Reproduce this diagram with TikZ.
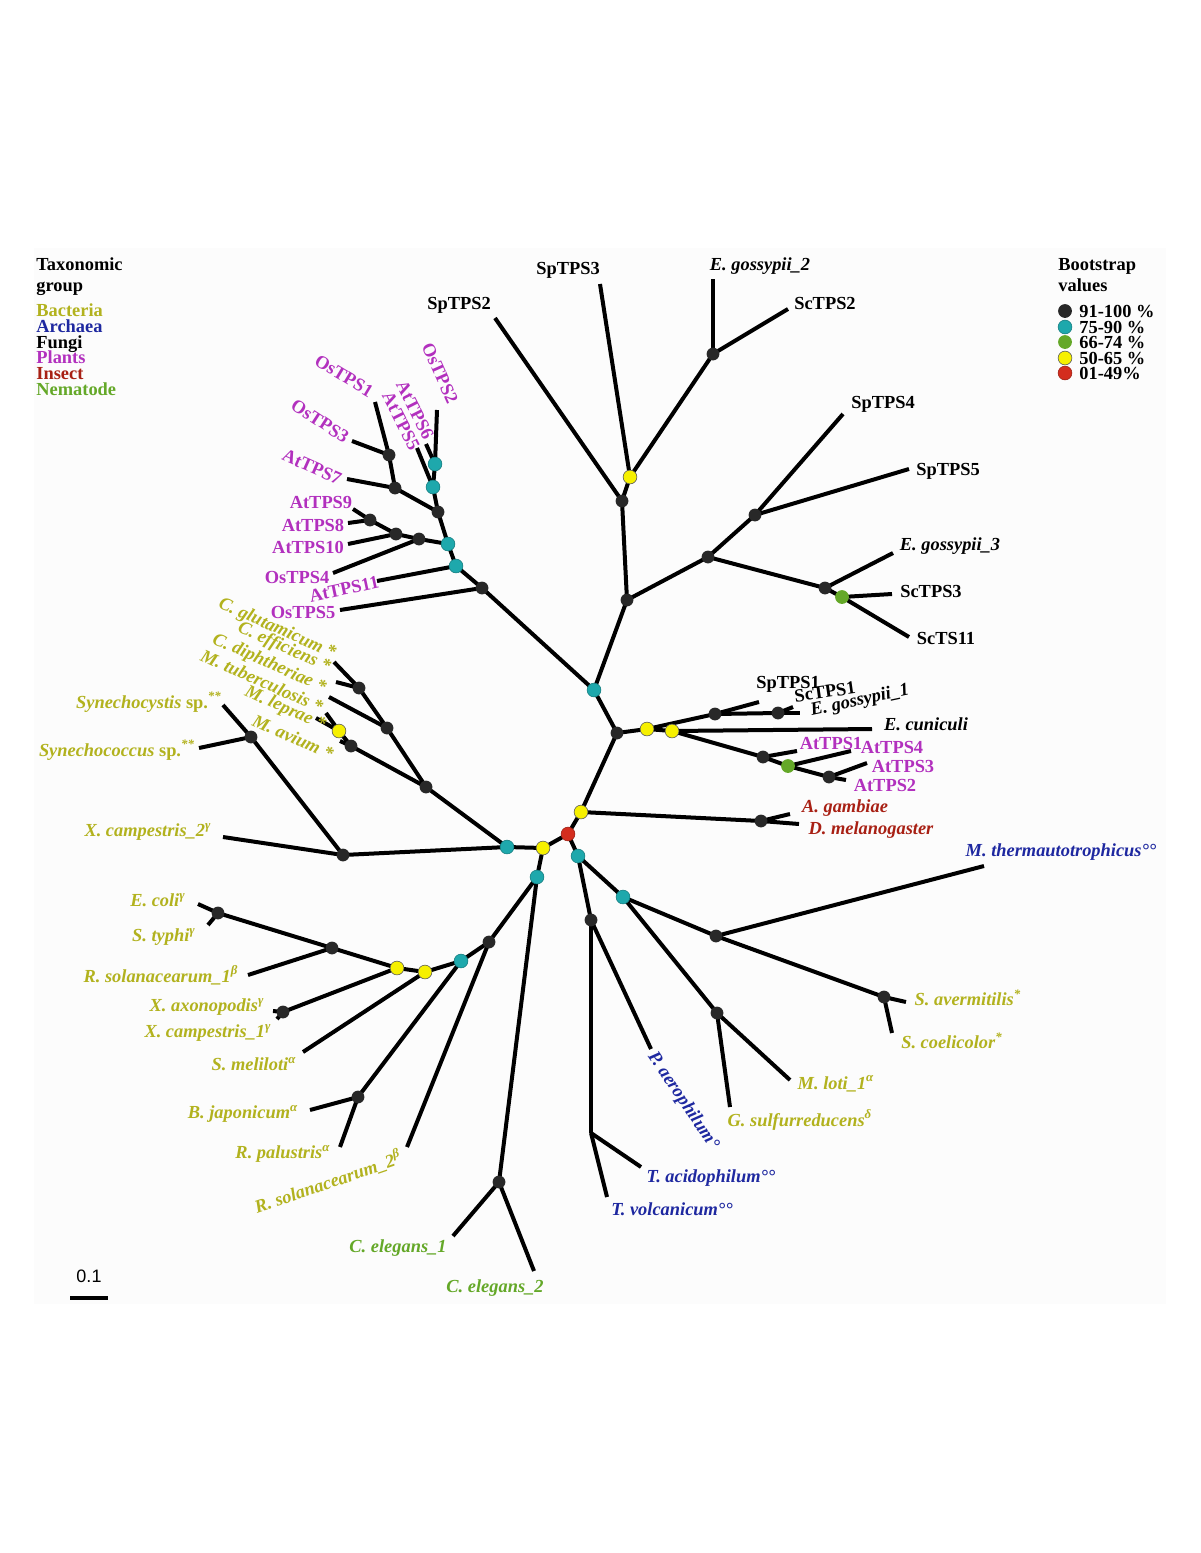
\documentclass[tikz,border=0pt]{standalone}
\usepackage{fontspec}
\setmainfont{Liberation Serif}
\newfontfamily\sansf{Liberation Sans}
\definecolor{bacC}{RGB}{178,178,30}
\definecolor{arcC}{RGB}{30,40,160}
\definecolor{plaC}{RGB}{178,48,190}
\definecolor{insC}{RGB}{168,32,20}
\definecolor{nemC}{RGB}{100,168,40}
\definecolor{dkC}{RGB}{40,40,40}
\definecolor{cyC}{RGB}{30,168,172}
\definecolor{grC}{RGB}{100,168,40}
\definecolor{yeC}{RGB}{246,240,0}
\definecolor{reC}{RGB}{212,45,30}
\newcommand\lbf{\fontsize{9.2}{11}\selectfont\bfseries}
\newcommand\lbi{\fontsize{9.2}{11}\selectfont\bfseries\itshape}
\begin{document}
\begin{tikzpicture}[x=0.5pt,y=-0.5pt,
  br/.style={line width=2pt},
  dot/.style={circle, inner sep=0pt, minimum size=6.9pt},
  dk/.style={dot, fill=dkC, minimum size=6.4pt},
  dc/.style={dot, fill=cyC, draw=cyC!75!black, line width=0.3pt},
  dg/.style={dot, fill=grC},
  dy/.style={dot, fill=yeC, draw=black!65, line width=0.3pt},
  dr/.style={dot, fill=reC, draw=reC!75!black, line width=0.3pt},
  lab/.style={inner sep=0pt, font=\lbf},
  sp/.style={inner sep=0pt, font=\lbi},
  leg/.style={inner sep=0pt, font=\lbf, anchor=base west},
]
\useasboundingbox (0,0) rectangle (1200,1553);
\fill[black!1.3] (34,248) rectangle (1166,1304);

% ---------- coordinates: internal nodes ----------
\coordinate (r) at (568,834);
\coordinate (y1) at (581,812);
\coordinate (y2) at (543,848);
\coordinate (c1) at (507,847);
\coordinate (c2) at (537,877);
\coordinate (c3) at (578,856);
\coordinate (f0) at (617,733);
\coordinate (c4) at (594,690);
\coordinate (p0) at (482,588);
\coordinate (f1) at (627,600);
\coordinate (f2) at (622,501);
\coordinate (fy) at (630,477);
\coordinate (f3) at (713,354);
\coordinate (f4) at (708,557);
\coordinate (f5) at (755,515);
\coordinate (f6) at (825,588);
\coordinate (fg) at (842,597);
\coordinate (m1) at (647,729);
\coordinate (m2) at (672,731);
\coordinate (m3) at (715,714);
\coordinate (m4) at (778,713);
\coordinate (m5) at (763,757);
\coordinate (m6) at (788,766);
\coordinate (m7) at (829,777);
\coordinate (ins) at (761,821);
\coordinate (pc1) at (456,566);
\coordinate (pc2) at (448,544);
\coordinate (pb1) at (419,539);
\coordinate (pb2) at (396,534);
\coordinate (pb3) at (370,520);
\coordinate (pb4) at (438,512);
\coordinate (pb5) at (395,488);
\coordinate (pb6) at (389,455);
\coordinate (pc3) at (433,487);
\coordinate (pc4) at (435,464);
\coordinate (bu1) at (426,787);
\coordinate (bu2) at (387,728);
\coordinate (bu3) at (359,688);
\coordinate (bu5) at (351,746);
\coordinate (by) at (339,731);
\coordinate (bx) at (343,855);
\coordinate (bs) at (251,737);
\coordinate (bl1) at (489,942);
\coordinate (bc) at (461,961);
\coordinate (bly2) at (425,972);
\coordinate (bly1) at (397,968);
\coordinate (be) at (332,948);
\coordinate (bec) at (218,913);
\coordinate (bxa) at (283,1012);
\coordinate (bj) at (358,1097);
\coordinate (ce) at (499,1182);
\coordinate (a1) at (591,920);
\coordinate (a2) at (591,1133);
\coordinate (c5) at (623,897);
\coordinate (a3) at (716,936);
\coordinate (a4) at (717,1013);
\coordinate (sa) at (884,997);

% ---------- coordinates: leaf tips ----------
\coordinate (tSpTPS2) at (495,318);
\coordinate (tSpTPS3) at (600,284);
\coordinate (tEgos2) at (713,279);
\coordinate (tScTPS2) at (788,309);
\coordinate (tSpTPS4) at (843,414);
\coordinate (tSpTPS5) at (909,469);
\coordinate (tEgos3) at (893,553);
\coordinate (tScTPS3) at (892,594);
\coordinate (tScTS11) at (909,637);
\coordinate (tSpTPS1) at (759,702);
\coordinate (tScTPS1) at (793,707);
\coordinate (tEgos1) at (800,713);
\coordinate (tEcun) at (872,729);
\coordinate (tAtTPS1) at (797,751);
\coordinate (tAtTPS4) at (851,751);
\coordinate (tAtTPS3) at (867,763);
\coordinate (tAtTPS2) at (846,780);
\coordinate (tAgam) at (790,814);
\coordinate (tDmel) at (799,824);
\coordinate (tOsTPS5) at (340,610);
\coordinate (tAtTPS11) at (377,581);
\coordinate (tOsTPS4) at (333,573);
\coordinate (tAtTPS10) at (348,544);
\coordinate (tAtTPS9) at (353,509);
\coordinate (tAtTPS8) at (348,523);
\coordinate (tAtTPS7) at (347,479);
\coordinate (tOsTPS1) at (375,402);
\coordinate (tOsTPS3) at (352,441);
\coordinate (tOsTPS2) at (437,410);
\coordinate (tAtTPS6) at (426,444);
\coordinate (tAtTPS5) at (417,448);
\coordinate (tCglu) at (334,662);
\coordinate (tCeff) at (336,682);
\coordinate (tCdip) at (329,697);
\coordinate (tMtub) at (326,713);
\coordinate (tMlep) at (316,718);
\coordinate (tMav) at (340,741);
\coordinate (tXcam2) at (223,837);
\coordinate (tSyncy) at (223,705);
\coordinate (tSynco) at (199,748);
\coordinate (tEcoli) at (198,904);
\coordinate (tStyphi) at (208,925);
\coordinate (tRsol1) at (248,975);
\coordinate (tXaxo) at (273,1011);
\coordinate (tXcam1) at (277,1019);
\coordinate (tSmel) at (303,1052);
\coordinate (tBjap) at (310,1110);
\coordinate (tRpal) at (340,1147);
\coordinate (tRsol2) at (407,1147);
\coordinate (tCel1) at (453,1236);
\coordinate (tCel2) at (534,1271);
\coordinate (tPaer) at (651,1049);
\coordinate (tTacid) at (641,1167);
\coordinate (tTvolc) at (607,1197);
\coordinate (tMther) at (984,866);
\coordinate (tSaver) at (906,1002);
\coordinate (tScoel) at (892,1033);
\coordinate (tMloti) at (790,1080);
\coordinate (tGsulf) at (730,1107);

% ---------- branches ----------
\foreach \a/\b in {r/y1, r/y2, r/c3, y2/c1, y2/c2, y1/f0, y1/ins, f0/c4, c4/p0, c4/f1,
  f1/f2, f2/tSpTPS2, f2/fy, fy/tSpTPS3, fy/f3, f3/tEgos2, f3/tScTPS2, f1/f4, f4/f5,
  f5/tSpTPS4, f5/tSpTPS5, f4/f6, f6/tEgos3, f6/fg, fg/tScTPS3, fg/tScTS11,
  f0/m1, m1/m3, m3/tSpTPS1, m3/m4, m4/tScTPS1, m4/tEgos1, m1/m2, m2/tEcun, m2/m5,
  m5/tAtTPS1, m5/m6, m6/tAtTPS4, m6/m7, m7/tAtTPS3, m7/tAtTPS2, ins/tAgam, ins/tDmel,
  p0/tOsTPS5, p0/pc1, pc1/tAtTPS11, pc1/pc2, pc2/pb1, pb1/tOsTPS4, pb1/pb2, pb2/tAtTPS10,
  pb2/pb3, pb3/tAtTPS9, pb3/tAtTPS8, pc2/pb4, pb4/pb5, pb5/tAtTPS7, pb5/pb6, pb6/tOsTPS1,
  pb6/tOsTPS3, pb4/pc3, pc3/tAtTPS5, pc3/pc4, pc4/tOsTPS2, pc4/tAtTPS6,
  c1/bu1, c1/bx, bu1/bu2, bu1/bu5, bu2/bu3, bu2/tCdip, bu3/tCglu, bu3/tCeff, bu5/by,
  bu5/tMav, by/tMtub, by/tMlep, bx/tXcam2, bx/bs, bs/tSyncy, bs/tSynco,
  c2/bl1, c2/ce, bl1/bc, bl1/tRsol2, bc/bly2, bc/bj, bj/tBjap, bj/tRpal, bly2/bly1,
  bly2/tSmel, bly1/be, bly1/bxa, bxa/tXaxo, bxa/tXcam1, be/bec, be/tRsol1, bec/tEcoli,
  bec/tStyphi, ce/tCel1, ce/tCel2,
  c3/a1, c3/c5, a1/tPaer, a1/a2, a2/tTacid, a2/tTvolc, c5/a3, c5/a4, a3/tMther, a3/sa,
  sa/tSaver, sa/tScoel, a4/tMloti, a4/tGsulf}
  \draw[br] (\a) -- (\b);

% ---------- bootstrap dots ----------
\foreach \n in {f0,p0,f1,f2,f3,f4,f5,f6,m3,m4,m5,m7,ins,pb1,pb2,pb3,pb4,pb5,pb6,
  bu1,bu2,bu3,bu5,bx,bs,bl1,be,bec,bxa,bj,ce,a1,a3,a4,sa}
  \node[dk] (d\n) at (\n) {};
\foreach \n in {c1,c2,c3,c4,c5,pc1,pc2,pc3,pc4,bc}
  \node[dc] (d\n) at (\n) {};
\foreach \n in {y1,y2,fy,m1,m2,by,bly1,bly2}
  \node[dy] (d\n) at (\n) {};
\foreach \n in {fg,m6}
  \node[dg] (d\n) at (\n) {};
\node[dr] (dr) at (r) {};

% ---------- fungi labels ----------
\node[lab] (nSpTPS2) at (459,305) {SpTPS2};
\node[lab] (nSpTPS3) at (568,270) {SpTPS3};
\node[sp] (nEgos2) at (760,266) {E. gossypii\_2};
\node[lab] (nScTPS2) at (825,303) {ScTPS2};
\node[lab] (nSpTPS4) at (883,404) {SpTPS4};
\node[lab] (nSpTPS5) at (948,471) {SpTPS5};
\node[sp] (nEgos3) at (950,546) {E. gossypii\_3};
\node[lab] (nScTPS3) at (931,591) {ScTPS3};
\node[lab] (nScTS11) at (946,638) {ScTS11};
\node[lab] (nSpTPS1) at (788,684) {SpTPS1};
\node[lab, rotate=8] (nScTPS1) at (825,692) {ScTPS1};
\node[sp, rotate=12] (nEgos1) at (860,701) {E. gossypii\_1};
\node[sp] (nEcun) at (926,724) {E. cuniculi};

% ---------- plant labels ----------
\node[lab, text=plaC] (nAtTPS1) at (831,743) {AtTPS1};
\node[lab, text=plaC] (nAtTPS4) at (892,747) {AtTPS4};
\node[lab, text=plaC] (nAtTPS3) at (903,766) {AtTPS3};
\node[lab, text=plaC] (nAtTPS2) at (885,785) {AtTPS2};
\node[lab, text=plaC, rotate=-31] (nOsTPS1) at (344,376) {OsTPS1};
\node[lab, text=plaC, rotate=-33] (nOsTPS3) at (320,421) {OsTPS3};
\node[lab, text=plaC, rotate=-24] (nAtTPS7) at (312,467) {AtTPS7};
\node[lab, text=plaC] (nAtTPS9) at (321,502) {AtTPS9};
\node[lab, text=plaC] (nAtTPS8) at (313,525) {AtTPS8};
\node[lab, text=plaC] (nAtTPS10) at (308,547) {AtTPS10};
\node[lab, text=plaC] (nOsTPS4) at (297,577) {OsTPS4};
\node[lab, text=plaC, rotate=12] (nAtTPS11) at (344,589) {AtTPS11};
\node[lab, text=plaC] (nOsTPS5) at (303,612) {OsTPS5};
\node[lab, text=plaC, rotate=-66] (nOsTPS2) at (440,373) {OsTPS2};
\node[lab, text=plaC, rotate=-63] (nAtTPS6) at (415,410) {AtTPS6};
\node[lab, text=plaC, rotate=-63] (nAtTPS5) at (401,421) {AtTPS5};

% ---------- insect labels ----------
\node[sp, text=insC] (nAgam) at (845,808) {A. gambiae};
\node[sp, text=insC] (nDmel) at (871,830) {D. melanogaster};

% ---------- bacteria labels ----------
\node[sp, text=bacC, rotate=-24] (nCglu) at (277,629) {C. glutamicum *};
\node[sp, text=bacC, rotate=-24] (nCeff) at (284,648) {C. efficiens *};
\node[sp, text=bacC, rotate=-24] (nCdip) at (269,664) {C. diphtheriae *};
\node[sp, text=bacC, rotate=-24] (nMtub) at (262,681) {M. tuberculosis *};
\node[sp, text=bacC, rotate=-24] (nMlep) at (285,709) {M. leprae *};
\node[sp, text=bacC, rotate=-24] (nMav) at (293,737) {M. avium *};
\node[sp, text=bacC] (nSyncy) at (149,702) {Synechocystis \textup{sp.}\textsuperscript{**}};
\node[sp, text=bacC] (nSynco) at (117,750) {Synechococcus \textup{sp.}\textsuperscript{**}};
\node[sp, text=bacC] (nXcam2) at (148,832) {X. campestris\_2\textsuperscript{γ}};
\node[sp, text=bacC] (nEcoli) at (158,900) {E. coli\textsuperscript{γ}};
\node[sp, text=bacC] (nStyphi) at (164,937) {S. typhi\textsuperscript{γ}};
\node[sp, text=bacC] (nRsol1) at (161,975) {R. solanacearum\_1\textsuperscript{β}};
\node[sp, text=bacC] (nXaxo) at (207,1007) {X. axonopodis\textsuperscript{γ}};
\node[sp, text=bacC] (nXcam1) at (208,1033) {X. campestris\_1\textsuperscript{γ}};
\node[sp, text=bacC] (nSmel) at (254,1064) {S. meliloti\textsuperscript{α}};
\node[sp, text=bacC] (nBjap) at (243,1114) {B. japonicum\textsuperscript{α}};
\node[sp, text=bacC] (nRpal) at (283,1154) {R. palustris\textsuperscript{α}};
\node[sp, text=bacC, rotate=19] (nRsol2) at (328,1182) {R. solanacearum\_2\textsuperscript{β}};
\node[sp, text=bacC] (nSaver) at (968,998) {S. avermitilis\textsuperscript{*}};
\node[sp, text=bacC] (nScoel) at (952,1041) {S. coelicolor\textsuperscript{*}};
\node[sp, text=bacC] (nMloti) at (836,1084) {M. loti\_1\textsuperscript{α}};
\node[sp, text=bacC] (nGsulf) at (800,1120) {G. sulfurreducens\textsuperscript{δ}};

% ---------- nematode labels ----------
\node[sp, text=nemC] (nCel1) at (398,1248) {C. elegans\_1};
\node[sp, text=nemC] (nCel2) at (495,1288) {C. elegans\_2};

% ---------- archaea labels ----------
\node[sp, text=arcC] (nMther) at (1061,852) {M. thermautotrophicus°°};
\node[sp, text=arcC, rotate=-56] (nPaer) at (683,1101) {P. aerophilum°};
\node[sp, text=arcC] (nTacid) at (711,1178) {T. acidophilum°°};
\node[sp, text=arcC] (nTvolc) at (672,1209) {T. volcanicum°°};

% ---------- legend: taxonomic group ----------
\node[leg] (lgA) at (36,270) {Taxonomic};
\node[leg] (lgB) at (36,291) {group};
\node[leg, text=bacC] (lgC) at (36,316) {Bacteria};
\node[leg, text=arcC] (lgD) at (36,332) {Archaea};
\node[leg] (lgE) at (36,348) {Fungi};
\node[leg, text=plaC] (lgF) at (36,363) {Plants};
\node[leg, text=insC] (lgG) at (36,379) {Insect};
\node[leg, text=nemC] (lgH) at (36,395) {Nematode};

% ---------- legend: bootstrap ----------
\node[leg] (bsA) at (1058,270) {Bootstrap};
\node[leg] (bsB) at (1058,291) {values};
\node[dk, minimum size=6.9pt] (bsd1) at (1065,311) {};
\node[dc] (bsd2) at (1065,327) {};
\node[dg] (bsd3) at (1065,342) {};
\node[dy] (bsd4) at (1065,358) {};
\node[dr] (bsd5) at (1065,373) {};
\node[leg] (bst1) at (1079,317) {91-100 \%};
\node[leg] (bst2) at (1079,333) {75-90 \%};
\node[leg] (bst3) at (1079,348) {66-74 \%};
\node[leg] (bst4) at (1079,364) {50-65 \%};
\node[leg] (bst5) at (1079,379) {01-49\%};

% ---------- scale bar ----------
\node[inner sep=0pt, font=\sansf\fontsize{9}{10}\selectfont] (sbl) at (89,1276) {0.1};
\coordinate (sb1) at (70,1298);
\coordinate (sb2) at (108,1298);
\draw[line width=1.6pt] (sb1) -- (sb2);
\end{tikzpicture}
\end{document}
